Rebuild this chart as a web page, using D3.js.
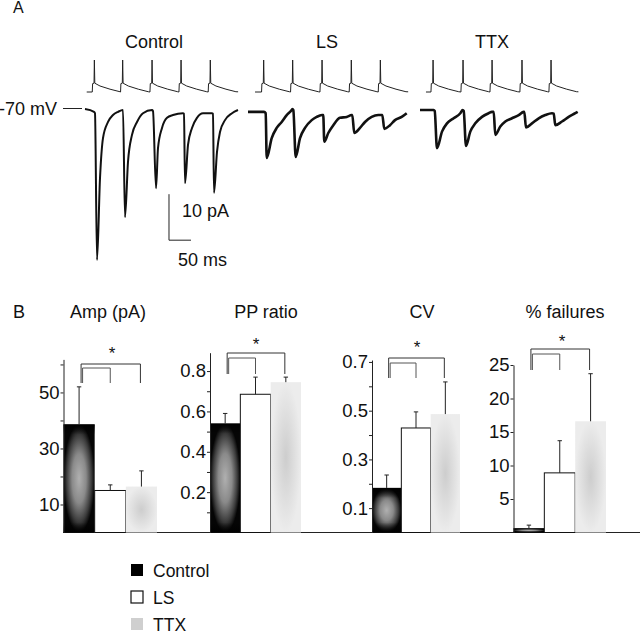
<!DOCTYPE html>
<html>
<head>
<meta charset="utf-8">
<script src="https://cdn.jsdelivr.net/npm/d3@7"></script>
<style>
  body { margin: 0; background: #fff; }
  svg { display: block; }
</style>
</head>
<body>
<script>
const conditions = ["Control", "LS", "TTX"];

// Panel A: EPSC sweeps, [ms from sweep start, pA]
const epscControl = [[0,0.2],[20.5,-0.4],[22.7,-0.7],[27.3,-32.6],[34.1,-14.8],[40.9,-6.1],[52.3,-2.6],[63.6,-1.1],[75,-0.4],[86.4,0],
  [90.9,-23.3],[97.7,-11.3],[106.8,-5.4],[118.2,-2.6],[131.8,-0.7],[152.3,0],[154.5,-0.2],
  [161.4,-17],[165.9,-8.3],[175,-3.9],[186.4,-1.7],[200,-1.1],[222.7,-0.7],[225,-0.8],
  [227.3,-15.9],[234.1,-7.6],[243.2,-3.9],[254.5,-1.7],[268.2,-0.7],[288.6,-0.7],[290.9,-0.8],
  [293.2,-18],[300,-9.1],[306.8,-4.8],[318.2,-2.2],[334.1,-0.7],[347.7,0]];
const epscLS = [[0,-0.4],[36.4,-0.4],[40.2,-0.7],[42.5,-10.4],[53.9,-6.1],[65.2,-3.9],[76.6,-2.6],[88,-1.1],[97.7,-0.2],[101,0.2],[103,0],
  [108.4,-10.2],[118.2,-6.1],[129.5,-3.9],[144.8,-2.2],[156.1,-1.5],[168.2,-1.1],[171,-1.1],
  [173.4,-6.9],[182.5,-5],[193.9,-3.3],[209,-1.7],[224.3,-1.5],[235.7,-1.1],[237,-1.1],
  [241.6,-5],[254.5,-3.9],[265.9,-2.6],[281.1,-1.5],[296.1,-1.1],[305.2,-1.1],
  [309.8,-4.1],[322.7,-3.3],[334.1,-2.2],[349.3,-1.5],[360.7,-0.7]];
const epscTTX = [[0,0],[31,0],[33.4,-0.2],[38.6,-8.3],[50,-4.7],[61.4,-2.9],[76.6,-1.8],[91.6,-0.7],[97,0],[99.3,-0.2],
  [104.5,-7.8],[114.3,-4.7],[125.7,-2.9],[140.9,-1.5],[156.1,-0.7],[163.6,-0.4],[167.5,-0.4],
  [171.1,-5.4],[182.5,-3.6],[193.9,-2.5],[209.1,-1.8],[224.3,-1.1],[235.7,-0.4],[237,-0.4],
  [240.9,-3.8],[254.5,-2.9],[269.8,-1.8],[284.8,-1.1],[300,-0.7],[303.9,-0.8],
  [307.5,-3.3],[322.7,-2.5],[337.9,-1.5],[353,-0.7],[358.4,-0.4]];

// presynaptic spikes: times (ms) and one waveform [ms after spike, mV]
const spikesControl = [20.5, 84.8, 151.6, 217.5, 284];
const spikesLS = [34.8, 100.7, 167.5, 234, 300];
const spikesTTX = [28.9, 97, 163, 231, 297];
const spikeWave = [[-4,-70],[-3.2,-49],[0,-48],[0.8,10],[1.8,-48],[13.6,-55],[36.4,-63],[59,-69.3]];
const spanControl = [3.9, 348];
const spanLS = [16, 364];
const spanTTX = [13.6, 360];

// Panel B: mean and error, in the order of conditions
const ampMean = [38.6, 15.0, 16.4];
const ampErr = [13.4, 2.0, 5.6];
const ppMean = [0.54, 0.685, 0.745];
const ppErr = [0.05, 0.085, 0.025];
const cvMean = [0.183, 0.429, 0.486];
const cvErr = [0.053, 0.066, 0.132];
const failMean = [0.63, 8.9, 16.6];
const failErr = [0.47, 4.8, 7.1];

const ampTicks = [10, 20, 30, 40, 50, 60];
const ampLabels = [10, 30, 50];
const ppTicks = [0.1, 0.2, 0.3, 0.4, 0.5, 0.6, 0.7, 0.8];
const ppLabels = [0.2, 0.4, 0.6, 0.8];
const cvTicks = [0.1, 0.2, 0.3, 0.4, 0.5, 0.6, 0.7];
const cvLabels = [0.1, 0.3, 0.5, 0.7];
const failTicks = [5, 10, 15, 20, 25];
const failLabels = [5, 10, 15, 20, 25];

const W = 640, H = 635;
const svg = d3.select("body").append("svg")
  .attr("width", W).attr("height", H)
  .attr("font-family", '"Liberation Sans", Arial, sans-serif')
  .attr("font-size", 18)
  .attr("fill", "#111");

// gradients for the bar fills
const defs = svg.append("defs");
const ctrlGrad = defs.append("radialGradient").attr("id", "ctrlR");
[[0, "#b0b0b0"], [0.45, "#8a8a8a"], [0.8, "#3c3c3c"], [1, "#050505"]]
  .forEach(([o, c]) => ctrlGrad.append("stop").attr("offset", o).attr("stop-color", c));
const topShade = defs.append("linearGradient").attr("id", "shadeTop").attr("x1", 0).attr("x2", 0).attr("y1", 0).attr("y2", 1);
topShade.append("stop").attr("offset", 0).attr("stop-color", "#000").attr("stop-opacity", 0.9);
topShade.append("stop").attr("offset", 1).attr("stop-color", "#000").attr("stop-opacity", 0);
const botShade = defs.append("linearGradient").attr("id", "shadeBot").attr("x1", 0).attr("x2", 0).attr("y1", 0).attr("y2", 1);
botShade.append("stop").attr("offset", 0).attr("stop-color", "#000").attr("stop-opacity", 0);
botShade.append("stop").attr("offset", 1).attr("stop-color", "#000").attr("stop-opacity", 0.9);
const ttxGrad = defs.append("radialGradient").attr("id", "ttxR");
ttxGrad.append("stop").attr("offset", 0).attr("stop-color", "#cdcdcd");
ttxGrad.append("stop").attr("offset", 1).attr("stop-color", "#ececec");

svg.append("text").attr("x", 13).attr("y", 13).attr("font-size", 16).text("A");
svg.append("text").attr("x", 13).attr("y", 318).text("B");

// ---------- Panel A: traces
const msPx = 0.44;        // px per ms
const yI = d3.scaleLinear().domain([-40, 0]).range([110 + 40 * 4.6, 110]);
const yV = d3.scaleLinear().domain([-70, 10]).range([92, 60]);

const sweeps = [
  { name: "Control", epsc: epscControl, spikes: spikesControl, span: spanControl, x0: 85, labelX: 154, w: 2 },
  { name: "LS", epsc: epscLS, spikes: spikesLS, span: spanLS, x0: 248, labelX: 327, w: 2.6 },
  { name: "TTX", epsc: epscTTX, spikes: spikesTTX, span: spanTTX, x0: 420, labelX: 492, w: 2.6 },
];

let xControl;
sweeps.forEach((s) => {
  const x = d3.scaleLinear().domain([0, 50]).range([s.x0, s.x0 + 50 * msPx]);
  if (s.name === "Control") xControl = x;

  // spike train built from the spike times and the waveform
  const vPts = [[s.span[0], -70]];
  s.spikes.forEach((t) => spikeWave.forEach(([dt, v]) => vPts.push([t + dt, v])));
  vPts.push([s.span[1], -69.5]);
  svg.append("path")
    .datum(vPts)
    .attr("fill", "none")
    .attr("stroke", "#222")
    .attr("stroke-width", 1)
    .attr("d", d3.line().x((d) => x(d[0])).y((d) => yV(d[1])));

  svg.append("path")
    .datum(s.epsc)
    .attr("fill", "none")
    .attr("stroke", "#111")
    .attr("stroke-width", s.w)
    .attr("stroke-linejoin", "round")
    .attr("d", d3.line().curve(d3.curveMonotoneX).x((d) => x(d[0])).y((d) => yI(d[1])));

  svg.append("text")
    .attr("x", s.labelX).attr("y", 48)
    .attr("text-anchor", "middle")
    .text(s.name);
});

// -70 mV marker
svg.append("text").attr("x", 57).attr("y", 115).attr("text-anchor", "end").text("-70 mV");
svg.append("line").attr("x1", 63).attr("x2", 82).attr("y1", 108.5).attr("y2", 108.5)
  .attr("stroke", "#222").attr("stroke-width", 1);

// scale bar: 10 pA / 50 ms
const sbT = 190.9, sbI = -28.3;
svg.append("path")
  .attr("fill", "none").attr("stroke", "#222").attr("stroke-width", 1)
  .attr("d", `M${xControl(sbT)},${yI(sbI + 10)}V${yI(sbI)}H${xControl(sbT + 50)}`);
svg.append("text").attr("x", 182).attr("y", 217).text("10 pA");
svg.append("text").attr("x", 178).attr("y", 266).text("50 ms");

// ---------- Panel B: bar charts
const base = 532.5;
svg.append("line").attr("x1", 63).attr("x2", 640).attr("y1", base).attr("y2", base)
  .attr("stroke", "#222").attr("stroke-width", 1);

const charts = [
  { title: "Amp (pA)", mean: ampMean, err: ampErr, ticks: ampTicks, labels: ampLabels, fmt: d3.format("d"),
    max: 61.8, x0: 63.5, x1: 157, top: 359.4, titleX: 108, br: [364, 368, 383], star: [112, 349] },
  { title: "PP ratio", mean: ppMean, err: ppErr, ticks: ppTicks, labels: ppLabels, fmt: d3.format(".1f"),
    max: 0.891, x0: 210, x1: 301, top: 352.7, titleX: 266, br: [353, 358, 374], star: [256, 340] },
  { title: "CV", mean: cvMean, err: cvErr, ticks: cvTicks, labels: cvLabels, fmt: d3.format(".1f"),
    max: 0.708, x0: 372, x1: 460, top: 360, titleX: 422, br: [358, 363, 378], star: [417, 343] },
  { title: "% failures", mean: failMean, err: failErr, ticks: failTicks, labels: failLabels, fmt: d3.format("d"),
    max: 25, x0: 513.5, x1: 606, top: 365, titleX: 565, br: [349, 354, 370], star: [562, 337] },
];

charts.forEach((c) => {
  const y = d3.scaleLinear().domain([0, c.max]).range([base, c.top]);
  const x = d3.scaleBand().domain(conditions).range([c.x0, c.x1]);
  const g = svg.append("g");

  g.append("text")
    .attr("x", c.titleX).attr("y", 318)
    .attr("text-anchor", "middle")
    .text(c.title);

  // bars
  conditions.forEach((k, i) => {
    const bx = x(k), bw = x.bandwidth();
    const by = y(c.mean[i]), bh = base - by;
    if (k === "Control") {
      g.append("rect").attr("x", bx).attr("y", by).attr("width", bw).attr("height", bh).attr("fill", "url(#ctrlR)");
      const sh = Math.min(bh / 2, 10);
      g.append("rect").attr("x", bx).attr("y", by).attr("width", bw).attr("height", sh).attr("fill", "url(#shadeTop)");
      g.append("rect").attr("x", bx).attr("y", base - sh).attr("width", bw).attr("height", sh).attr("fill", "url(#shadeBot)");
    } else if (k === "LS") {
      g.append("rect").attr("x", bx).attr("y", by).attr("width", bw).attr("height", bh)
        .attr("fill", "#fff").attr("stroke", "#111").attr("stroke-width", 1);
    } else {
      g.append("rect").attr("x", bx).attr("y", by).attr("width", bw).attr("height", bh).attr("fill", "url(#ttxR)");
    }
    // error bar
    const cx = bx + bw / 2;
    const ey = y(c.mean[i] + c.err[i]);
    g.append("path")
      .attr("fill", "none").attr("stroke", "#222").attr("stroke-width", 1)
      .attr("d", `M${cx},${by}V${ey}M${cx - 2.2},${ey}H${cx + 2.2}`);
  });

  // y axis
  const axis = d3.axisLeft(y)
    .tickValues(c.ticks)
    .tickSize(3)
    .tickSizeOuter(0)
    .tickPadding(1)
    .tickFormat((d) => (c.labels.includes(d) ? c.fmt(d) : ""));
  const ag = g.append("g").attr("transform", `translate(${c.x0},0)`).call(axis);
  ag.attr("font-family", null).attr("font-size", 18.5);
  ag.selectAll("text").attr("fill", "#111");
  ag.selectAll("line, path").attr("stroke", "#222");

  // significance brackets
  const cC = x("Control") + x.bandwidth() / 2;
  const cL = x("LS") + x.bandwidth() / 2;
  const cT = x("TTX") + x.bandwidth() / 2;
  g.append("path")
    .attr("fill", "none").attr("stroke", "#333").attr("stroke-width", 1)
    .attr("d", `M${cC + 2},${c.br[2]}V${c.br[0]}H${cT - 1}V${c.br[2]}`);
  g.append("path")
    .attr("fill", "none").attr("stroke", "#555").attr("stroke-width", 1)
    .attr("d", `M${cC + 3.5},${c.br[2]}V${c.br[1]}H${cL}V${c.br[2]}`);
  g.append("text")
    .attr("x", c.star[0]).attr("y", c.star[1] + 9.5)
    .attr("text-anchor", "middle")
    .attr("font-size", 17)
    .text("*");
});

// legend
const legendFill = { Control: "#000", LS: "#fff", TTX: "#cfcfcf" };
const legend = svg.append("g").selectAll("g")
  .data(conditions)
  .join("g")
  .attr("transform", (d, i) => `translate(131,${564 + i * 27})`);
legend.append("rect")
  .attr("width", 12).attr("height", 12)
  .attr("fill", (d) => legendFill[d])
  .attr("stroke", (d) => (d === "LS" ? "#111" : "none"))
  .attr("stroke-width", 1.2);
legend.append("text")
  .attr("x", 22).attr("y", 13)
  .attr("font-size", 17.5)
  .text((d) => d);
</script>
</body>
</html>
